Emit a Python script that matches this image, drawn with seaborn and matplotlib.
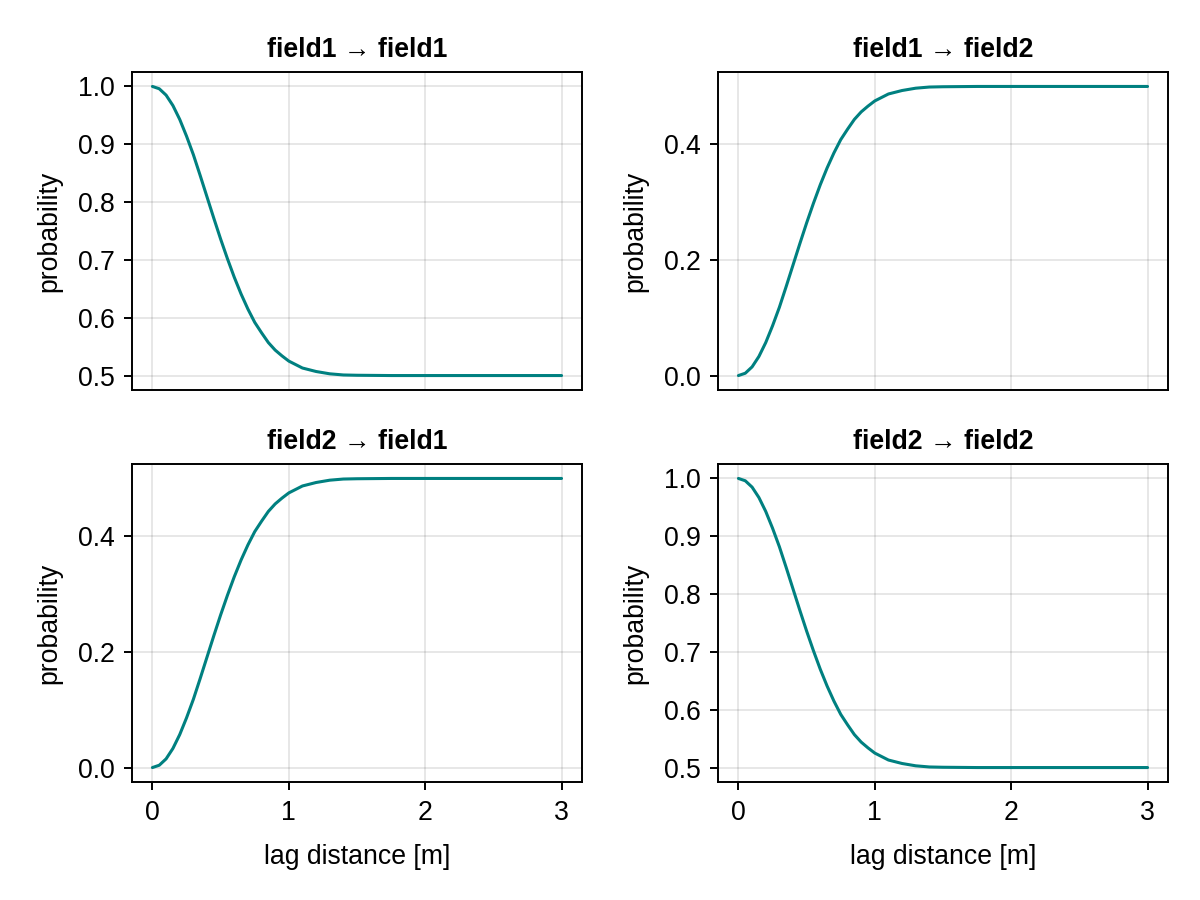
import numpy as np
import pandas as pd
import seaborn as sns
import matplotlib.pyplot as plt

# lag distances [m] and transition probabilities
lag = [0.00, 0.05, 0.10, 0.15, 0.20, 0.25, 0.30, 0.35, 0.40, 0.45,
       0.50, 0.55, 0.60, 0.65, 0.70, 0.75, 0.80, 0.85, 0.90, 0.95,
       1.00, 1.10, 1.20, 1.30, 1.40, 1.50, 1.75, 2.00, 2.50, 3.00]
p_same = [1.000, 0.996, 0.985, 0.967, 0.943, 0.914, 0.882, 0.846, 0.809, 0.772,
          0.736, 0.702, 0.670, 0.641, 0.615, 0.592, 0.574, 0.557, 0.544, 0.534,
          0.525, 0.513, 0.507, 0.503, 0.501, 0.5005, 0.500, 0.500, 0.500, 0.500]
p_cross = [0.000, 0.004, 0.015, 0.033, 0.057, 0.086, 0.118, 0.154, 0.191, 0.228,
           0.264, 0.298, 0.330, 0.359, 0.385, 0.408, 0.426, 0.443, 0.456, 0.466,
           0.475, 0.487, 0.493, 0.497, 0.499, 0.4995, 0.500, 0.500, 0.500, 0.500]

fields = ['field1', 'field2']
curves = {('field1', 'field1'): p_same, ('field1', 'field2'): p_cross,
          ('field2', 'field1'): p_cross, ('field2', 'field2'): p_same}
yticks_same = [0.5, 0.6, 0.7, 0.8, 0.9, 1.0]
yticks_cross = [0.0, 0.2, 0.4]

FS = 9.6
sns.set_theme(style='white')
plt.rcParams['font.family'] = ['Liberation Sans', 'DejaVu Sans']
plt.rcParams['font.size'] = FS
plt.rcParams['text.color'] = 'black'
plt.rcParams['axes.labelcolor'] = 'black'
plt.rcParams['xtick.color'] = 'black'
plt.rcParams['ytick.color'] = 'black'
plt.rcParams['lines.solid_joinstyle'] = 'round'

fig = plt.figure(figsize=(6, 4.5), dpi=200)
lefts = [132 / 1200, 718 / 1200]
bottoms = [1 - 390 / 900, 1 - 782 / 900]
w, h = 450 / 1200, 318 / 900

for r, src in enumerate(fields):
    for c, dst in enumerate(fields):
        ax = fig.add_axes([lefts[c], bottoms[r], w, h])
        df = pd.DataFrame({'lag': lag, 'prob': curves[(src, dst)]})
        sns.lineplot(data=df, x='lag', y='prob', ax=ax, color='#008080', linewidth=1.1)
        ax.set_xlim(-0.15, 3.15)
        if src == dst:
            ax.set_ylim(0.475, 1.025)
            ax.set_yticks(yticks_same)
            ax.set_yticklabels([f'{v:.1f}' for v in yticks_same])
        else:
            ax.set_ylim(-0.025, 0.525)
            ax.set_yticks(yticks_cross)
            ax.set_yticklabels([f'{v:.1f}' for v in yticks_cross])
        ax.set_xticks([0, 1, 2, 3])
        ax.grid(True, color='black', alpha=0.12, linewidth=0.55)
        ax.tick_params(direction='out', length=2.8, width=0.7, pad=3.5,
                       labelsize=FS, left=True, bottom=(r == 1), colors='black')
        for s in ax.spines.values():
            s.set_color('black')
            s.set_linewidth(0.7)
        ax.set_ylabel('probability', fontsize=FS, labelpad=5.5)
        if r == 1:
            ax.set_xlabel('lag distance [m]', fontsize=FS, labelpad=6.5)
        else:
            ax.set_xlabel('')
            ax.set_xticklabels([])
        ax.set_title(f'{src} \u2192 {dst}', fontsize=FS, fontweight='bold', pad=5.5,
                     color='black')

fig.savefig('out.png', dpi=200, facecolor='white')
